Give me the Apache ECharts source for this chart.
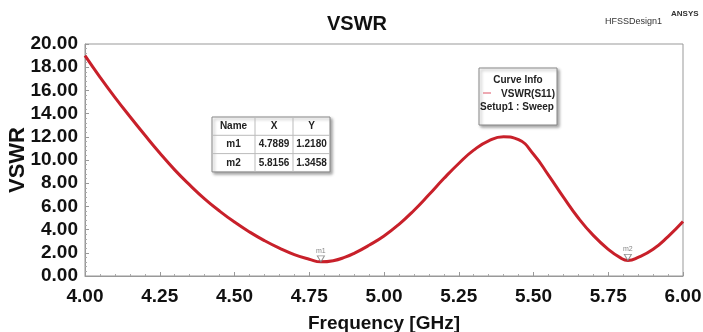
<!DOCTYPE html>
<html><head><meta charset="utf-8">
<script src="https://cdn.jsdelivr.net/npm/echarts@6/dist/echarts.min.js"></script>
<style>html,body{margin:0;padding:0;background:#fff}#c{width:703px;height:332px}</style>
</head><body><div id="c"></div>
<script>
const freq = [4.00,4.05,4.10,4.15,4.20,4.25,4.30,4.35,4.40,4.45,4.50,4.55,4.60,4.65,4.70,4.75,4.7889,4.83,4.87,4.90,4.95,5.00,5.05,5.10,5.15,5.20,5.25,5.30,5.35,5.40,5.45,5.50,5.55,5.60,5.65,5.70,5.75,5.79,5.8156,5.85,5.90,5.95,6.00];
const vswr = [19.0,17.15,15.4,13.75,12.15,10.6,9.15,7.85,6.65,5.6,4.65,3.8,3.05,2.4,1.85,1.45,1.218,1.32,1.62,1.95,2.65,3.45,4.45,5.65,7.0,8.4,9.7,10.85,11.65,12.0,11.75,10.5,8.7,6.8,5.0,3.5,2.3,1.58,1.3458,1.6,2.3,3.4,4.7];
const markerNames = ['m1','m2'];
const markerX = [4.7889,5.8156];
const markerY = [1.2180,1.3458];
const yTicks = ['0.00','2.00','4.00','6.00','8.00','10.00','12.00','14.00','16.00','18.00','20.00'];
const xTicks = ['4.00','4.25','4.50','4.75','5.00','5.25','5.50','5.75','6.00'];

const chart = echarts.init(document.getElementById('c'));
const F = 'Liberation Sans, Arial, sans-serif';
const lineData = freq.map((f,i)=>[f,vswr[i]]);
const mkData = markerX.map((x,i)=>({value:[x,markerY[i]],name:markerNames[i]}));

// table graphics
const tx=212, ty=117, cw=[43,38,37], rh=18.3;
const rows=[['Name','X','Y']].concat(markerNames.map((n,i)=>[n,markerX[i].toFixed(4),markerY[i].toFixed(4)]));
const tableEls=[];
tableEls.push({type:'rect',shape:{x:tx,y:ty,width:cw[0]+cw[1]+cw[2],height:rh*3},style:{fill:'#fff',stroke:'#888',lineWidth:1,shadowBlur:3,shadowOffsetX:2,shadowOffsetY:2,shadowColor:'rgba(0,0,0,0.35)'}});
for(let r=1;r<3;r++) tableEls.push({type:'line',shape:{x1:tx,y1:ty+rh*r,x2:tx+cw[0]+cw[1]+cw[2],y2:ty+rh*r},style:{stroke:'#bbb',lineWidth:1}});
let cx=tx;
for(let c=0;c<3;c++){
  if(c>0) tableEls.push({type:'line',shape:{x1:cx,y1:ty,x2:cx,y2:ty+rh*3},style:{stroke:'#bbb',lineWidth:1}});
  for(let r=0;r<3;r++){
    tableEls.push({type:'text',style:{text:rows[r][c],x:cx+cw[c]/2,y:ty+rh*r+rh/2,align:'center',verticalAlign:'middle',font:'bold 10px '+F,fill:'#222'}});
  }
  cx+=cw[c];
}

chart.setOption({
  animation:false,
  backgroundColor:'#fff',
  title:{text:'VSWR',left:352,top:9,textAlign:'center',textStyle:{fontFamily:F,fontWeight:'bold',fontSize:20,color:'#111'}},
  grid:{left:85,right:20,top:44,bottom:56,show:true,borderColor:'#999',borderWidth:1,containLabel:false,outerBoundsMode:'none'},
  xAxis:{type:'value',min:4,max:6,interval:0.25,
    name:'Frequency [GHz]',nameLocation:'middle',nameGap:38,nameMoveOverlap:false,
    nameTextStyle:{fontFamily:F,fontWeight:'bold',fontSize:19,color:'#111'},
    axisLine:{lineStyle:{color:'#999'}},axisTick:{show:true,length:4,inside:true,lineStyle:{color:'#999'}},
    minorTick:{show:true,splitNumber:5,length:2,lineStyle:{color:'#aaa'}},
    splitLine:{show:false},
    axisLabel:{fontFamily:F,fontWeight:'bold',fontSize:19,color:'#111',margin:11,formatter:(v)=>xTicks[Math.round((v-4)/0.25)]}},
  yAxis:{type:'value',min:0,max:20,interval:2,
    name:'VSWR',nameLocation:'middle',nameGap:56,nameRotate:90,nameMoveOverlap:false,
    nameTextStyle:{fontFamily:F,fontWeight:'bold',fontSize:22,color:'#111'},
    axisLine:{show:true,lineStyle:{color:'#999'}},axisTick:{show:true,length:4,inside:true,lineStyle:{color:'#999'}},
    minorTick:{show:true,splitNumber:5,length:2,lineStyle:{color:'#aaa'}},
    splitLine:{show:false},
    axisLabel:{fontFamily:F,fontWeight:'bold',fontSize:19,color:'#111',margin:7,formatter:(v)=>yTicks[Math.round(v/2)]}},
  series:[
    {type:'line',data:lineData,smooth:0.5,showSymbol:false,lineStyle:{color:'#c8202a',width:3},z:2},
    {type:'scatter',data:mkData,symbol:'triangle',symbolRotate:180,symbolSize:[7,6],symbolOffset:[0,-3],
      itemStyle:{color:'#fff',borderColor:'#777',borderWidth:1},z:3,
      label:{show:true,position:'top',distance:1,formatter:(p)=>p.name,fontFamily:F,fontSize:7,color:'#666'}}
  ],
  graphic:[
    {type:'text',style:{text:'HFSSDesign1',x:605,y:17,font:'9px '+F,fill:'#333'}},
    {type:'text',style:{text:'ANSYS',x:671,y:10,font:'bold 8px '+F,fill:'#333'}},
    {type:'rect',shape:{x:479,y:68,width:78,height:57},style:{fill:'#fff',stroke:'#888',lineWidth:1,shadowBlur:3,shadowOffsetX:2,shadowOffsetY:2,shadowColor:'rgba(0,0,0,0.35)'}},
    {type:'text',style:{text:'Curve Info',x:518,y:80,align:'center',verticalAlign:'middle',font:'bold 10px '+F,fill:'#222'}},
    {type:'line',shape:{x1:483,y1:93,x2:491,y2:93},style:{stroke:'#d56',lineWidth:1}},
    {type:'text',style:{text:'VSWR(S11)',x:555,y:94,align:'right',verticalAlign:'middle',font:'bold 10px '+F,fill:'#222'}},
    {type:'text',style:{text:'Setup1 : Sweep',x:480,y:107,align:'left',verticalAlign:'middle',font:'bold 10px '+F,fill:'#222'}}
  ].concat(tableEls)
});
</script></body></html>
